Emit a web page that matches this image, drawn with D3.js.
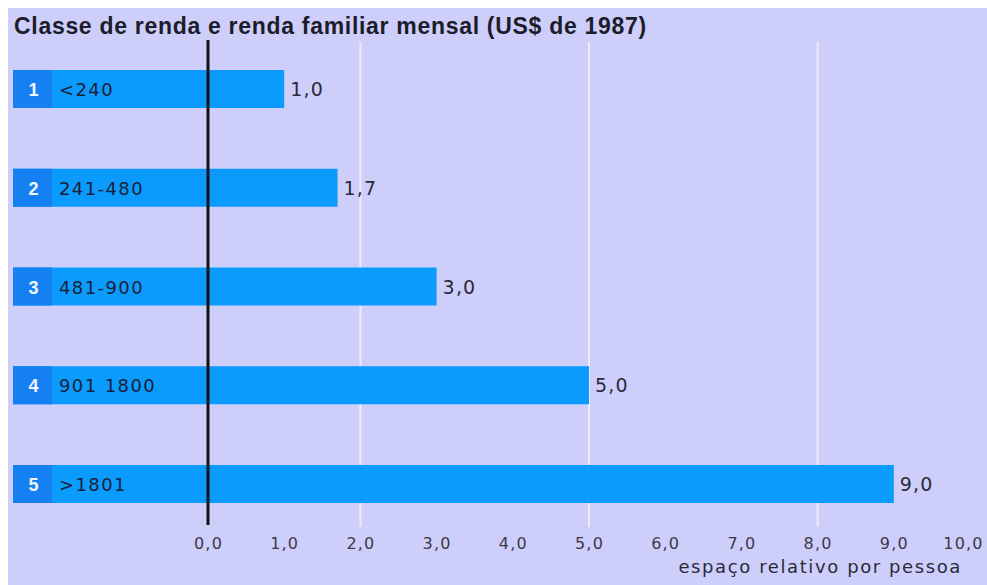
<!DOCTYPE html>
<html>
<head>
<meta charset="utf-8">
<script src="https://cdn.jsdelivr.net/npm/d3@7"></script>
<style>
  html, body { margin: 0; padding: 0; background: #ffffff; }
  svg { display: block; font-family: "DejaVu Sans", "Liberation Sans", Arial, sans-serif; }
</style>
</head>
<body>
<svg id="chart" width="987" height="585"></svg>
<script>
// Income classes (monthly family income, 1987 US$) and relative space per person
const classNumbers = ["1", "2", "3", "4", "5"];
const incomeRanges = ["<240", "241-480", "481-900", "901 1800", ">1801"];
const relativeSpace = [1.0, 1.7, 3.0, 5.0, 9.0];
const tickValues = [0, 1, 2, 3, 4, 5, 6, 7, 8, 9, 10];
const gridValues = [2, 5, 8];

const titleText = "Classe de renda e renda familiar mensal (US$ de 1987)";
const axisTitle = "espaço relativo por pessoa";

const W = 987, H = 585;
const svg = d3.select("#chart");

// Portuguese number format: comma as decimal separator
const ptBR = d3.formatLocale({ decimal: ",", thousands: ".", grouping: [3], currency: ["", ""] });
const fmt = ptBR.format(".1f");

const rows = classNumbers.map((n, i) => ({ n, range: incomeRanges[i], value: relativeSpace[i] }));

const x = d3.scaleLinear().domain([0, 10]).range([208, 970]);
const y = d3.scalePoint().domain(classNumbers).range([89, 484]);
const barH = 38;
const barLeft = 13;
const boxW = 39;

// Background panel
svg.append("rect")
  .attr("x", 8).attr("y", 8).attr("width", W - 8).attr("height", H - 8)
  .attr("fill", "#cecefb");

// Title
svg.append("text")
  .attr("x", 14).attr("y", 34)
  .attr("font-family", "Liberation Sans, Arial, sans-serif")
  .attr("font-size", 23).attr("font-weight", "bold")
  .attr("letter-spacing", 0.7)
  .attr("fill", "#1c1c2a")
  .text(titleText);

// White gridlines
svg.append("g").selectAll("line")
  .data(gridValues)
  .join("line")
  .attr("x1", d => x(d)).attr("x2", d => x(d))
  .attr("y1", 42).attr("y2", 527)
  .attr("stroke", "#ebebfd").attr("stroke-width", 2);

// Bars
const bars = svg.append("g");
bars.selectAll("rect.bar")
  .data(rows)
  .join("rect")
  .attr("class", "bar")
  .attr("x", barLeft)
  .attr("y", d => y(d.n) - barH / 2)
  .attr("width", d => x(d.value) - barLeft)
  .attr("height", barH)
  .attr("fill", "#0a9bfd");

// Class-number boxes
bars.selectAll("rect.box")
  .data(rows)
  .join("rect")
  .attr("class", "box")
  .attr("x", barLeft)
  .attr("y", d => y(d.n) - barH / 2)
  .attr("width", boxW)
  .attr("height", barH)
  .attr("fill", "#1480f2");

bars.selectAll("text.num")
  .data(rows)
  .join("text")
  .attr("class", "num")
  .attr("x", barLeft + boxW / 2 + 1)
  .attr("y", d => y(d.n) + 7)
  .attr("text-anchor", "middle")
  .attr("font-family", "Liberation Sans, Arial, sans-serif")
  .attr("font-size", 18).attr("font-weight", "bold")
  .attr("fill", "#f4f6ff")
  .text(d => d.n);

bars.selectAll("text.range")
  .data(rows)
  .join("text")
  .attr("class", "range")
  .attr("x", 59)
  .attr("y", d => y(d.n) + 7)
  .attr("font-size", 18).attr("letter-spacing", 1.4)
  .attr("fill", "#1b1f3a")
  .text(d => d.range);

// Value labels
bars.selectAll("text.val")
  .data(rows)
  .join("text")
  .attr("class", "val")
  .attr("x", d => x(d.value) + 6)
  .attr("y", d => y(d.n) + 7)
  .attr("font-size", 19).attr("letter-spacing", 1.2)
  .attr("fill", "#2a2a3a")
  .text(d => fmt(d.value));

// Zero axis line (drawn over the bars)
svg.append("line")
  .attr("x1", x(0)).attr("x2", x(0))
  .attr("y1", 40).attr("y2", 525)
  .attr("stroke", "#111111").attr("stroke-width", 3);

// Bottom tick labels
const axis = d3.axisBottom(x)
  .tickValues(tickValues)
  .tickFormat(fmt)
  .tickSize(0)
  .tickPadding(0);

const ax = svg.append("g")
  .attr("transform", "translate(0,538)")
  .call(axis);
ax.select(".domain").remove();
ax.selectAll("text")
  .attr("font-size", 16)
  .attr("letter-spacing", 1.2)
  .attr("font-family", "DejaVu Sans, Liberation Sans, sans-serif")
  .attr("fill", "#3a3a48")
  .attr("dx", d => d === 10 ? -7 : 0);

// Axis title
svg.append("text")
  .attr("x", 962).attr("y", 573)
  .attr("text-anchor", "end")
  .attr("font-size", 18).attr("letter-spacing", 1.6)
  .attr("fill", "#2a2a3a")
  .text(axisTitle);
</script>
</body>
</html>
